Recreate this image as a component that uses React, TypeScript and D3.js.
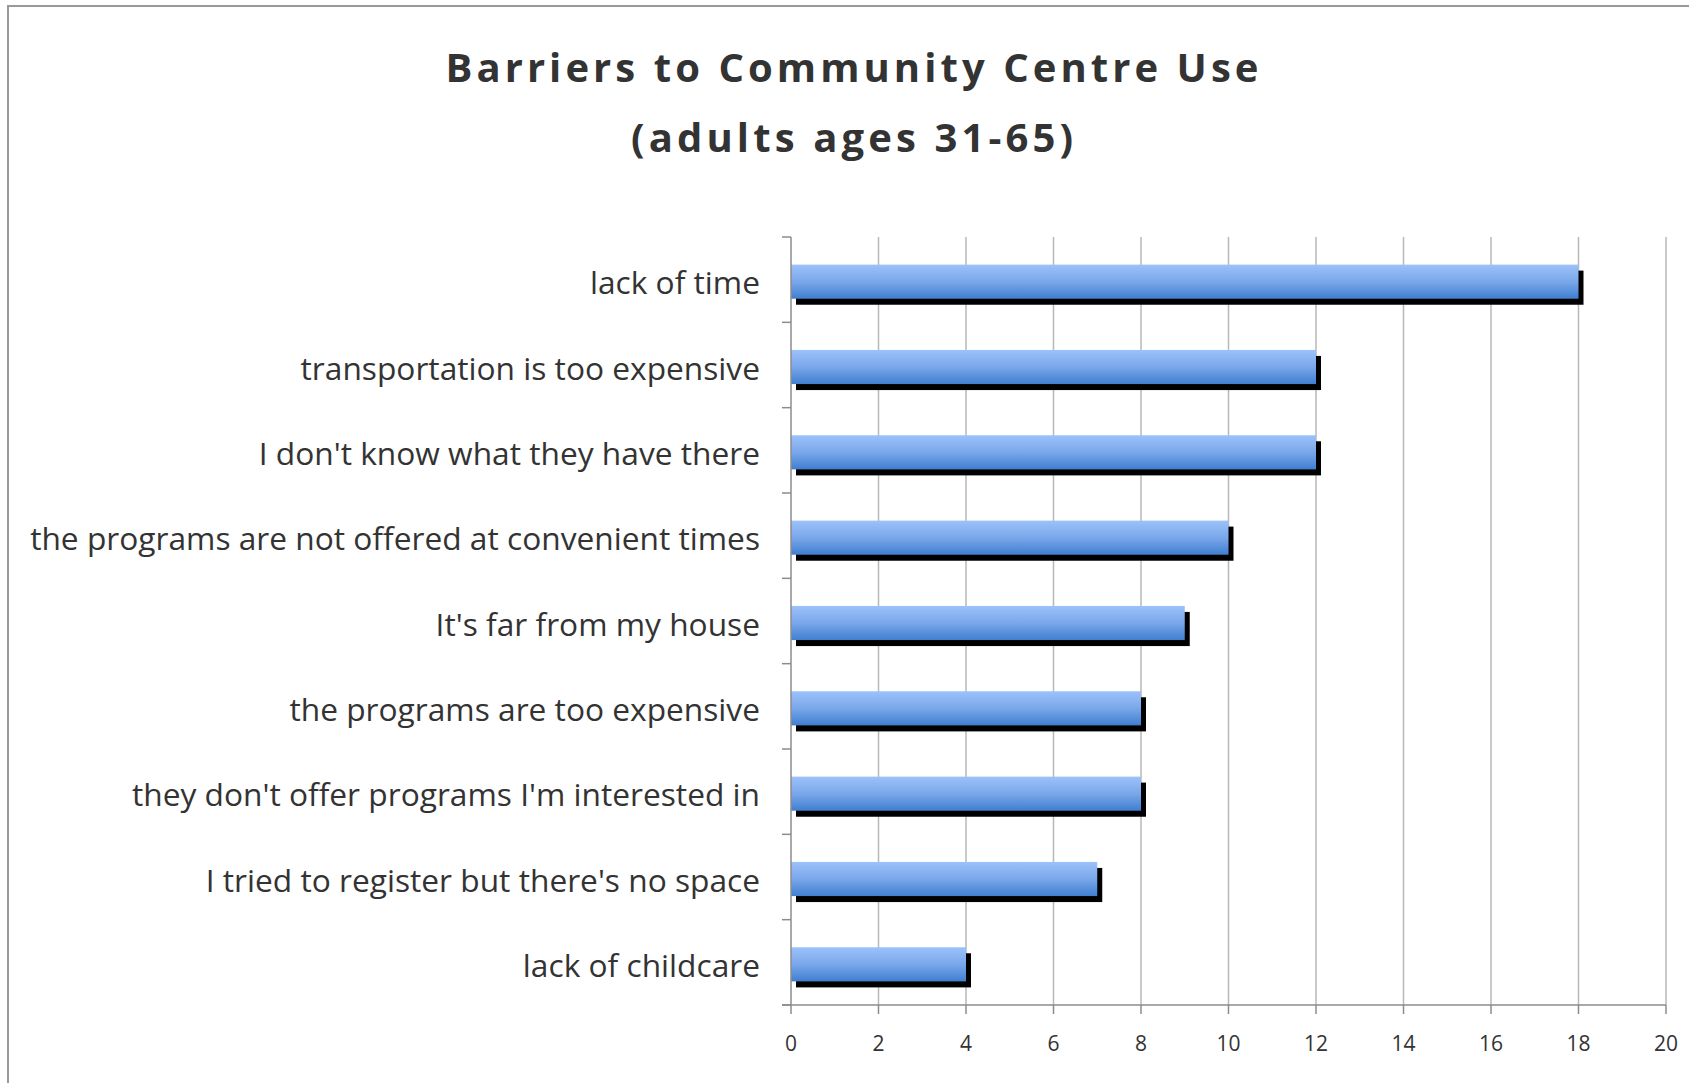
import React from "react";
import * as d3 from "d3";

const categories = [
  "lack of time",
  "transportation is too expensive",
  "I don't know what they have there",
  "the programs are not offered at convenient times",
  "It's far from my house",
  "the programs are too expensive",
  "they don't offer programs I'm interested in",
  "I tried to register but there's no space",
  "lack of childcare",
];
const values = [18, 12, 12, 10, 9, 8, 8, 7, 4];
const xTicks = [0, 2, 4, 6, 8, 10, 12, 14, 16, 18, 20];
const titleLines = ["Barriers to Community Centre Use", "(adults ages 31-65)"];
const titleWidths = [813, 442];

const W = 1689;
const H = 1083;
const plot = { left: 791, right: 1666, top: 237, bottom: 1005 };

export default function App() {
  const x = d3.scaleLinear().domain([0, 20]).range([plot.left, plot.right]);
  const y = d3
    .scaleBand<string>()
    .domain(categories)
    .range([plot.top, plot.bottom])
    .padding(0);
  const step = y.step();
  const barH = step * 0.4;
  const font = "'Open Sans', 'DejaVu Sans', sans-serif";
  const text = "#333333";

  return (
    <svg
      width={W}
      height={H}
      style={{ position: "absolute", left: 0, top: 0, background: "#fff" }}
    >
      <defs>
        <linearGradient id="barGrad" x1="0" y1="0" x2="0" y2="1">
          <stop offset="0%" stopColor="#9cc2fa" />
          <stop offset="50%" stopColor="#7aa7ea" />
          <stop offset="100%" stopColor="#3f7fd0" />
        </linearGradient>
      </defs>
      <rect x={0} y={0} width={W} height={H} fill="#fff" />
      {/* border */}
      <path d={`M8,${H + 5} L8,6 L${W + 5},6`} fill="none" stroke="#999" strokeWidth={2} />

      {/* title */}
      {titleLines.map((t, i) => (
        <text
          key={t}
          x={852}
          y={82 + i * 70}
          textAnchor="middle"
          fontFamily={font}
          fontWeight={700}
          fontSize={40}
          fill={text}
          textLength={titleWidths[i]}
          lengthAdjust="spacing"
        >
          {t}
        </text>
      ))}

      {/* gridlines */}
      {xTicks.slice(1).map((t) => (
        <line
          key={t}
          x1={x(t)}
          x2={x(t)}
          y1={plot.top}
          y2={plot.bottom}
          stroke="#b8b8b8"
          strokeWidth={1.5}
        />
      ))}

      {/* bars */}
      {categories.map((c, i) => {
        const yy = (y(c) as number) + (step - barH) / 2 + 2;
        const w = x(values[i]) - x(0);
        return (
          <g key={c}>
            <rect x={x(0) + 5} y={yy + 6} width={w} height={barH} fill="#000" />
            <rect x={x(0)} y={yy} width={w} height={barH} fill="url(#barGrad)" />
          </g>
        );
      })}

      {/* axes */}
      <line x1={plot.left} x2={plot.left} y1={plot.top} y2={plot.bottom} stroke="#8c8c8c" strokeWidth={1.5} />
      <line x1={plot.left - 9} x2={plot.right} y1={plot.bottom} y2={plot.bottom} stroke="#8c8c8c" strokeWidth={1.5} />
      {d3.range(categories.length + 1).map((i) => (
        <line
          key={i}
          x1={plot.left - 9}
          x2={plot.left}
          y1={plot.top + i * step}
          y2={plot.top + i * step}
          stroke="#8c8c8c"
          strokeWidth={1.5}
        />
      ))}
      {xTicks.map((t) => (
        <g key={t}>
          <line x1={x(t)} x2={x(t)} y1={plot.bottom} y2={plot.bottom + 9} stroke="#8c8c8c" strokeWidth={1.5} />
          <text
            x={x(t)}
            y={1043}
            textAnchor="middle"
            dominantBaseline="central"
            fontFamily={font}
            fontSize={21}
            fill={text}
          >
            {t}
          </text>
        </g>
      ))}

      {/* category labels */}
      {categories.map((c) => (
        <text
          key={c}
          x={760}
          y={(y(c) as number) + step / 2 + 2}
          textAnchor="end"
          dominantBaseline="central"
          fontFamily={font}
          fontSize={31.7}
          fill={text}
        >
          {c}
        </text>
      ))}
    </svg>
  );
}
